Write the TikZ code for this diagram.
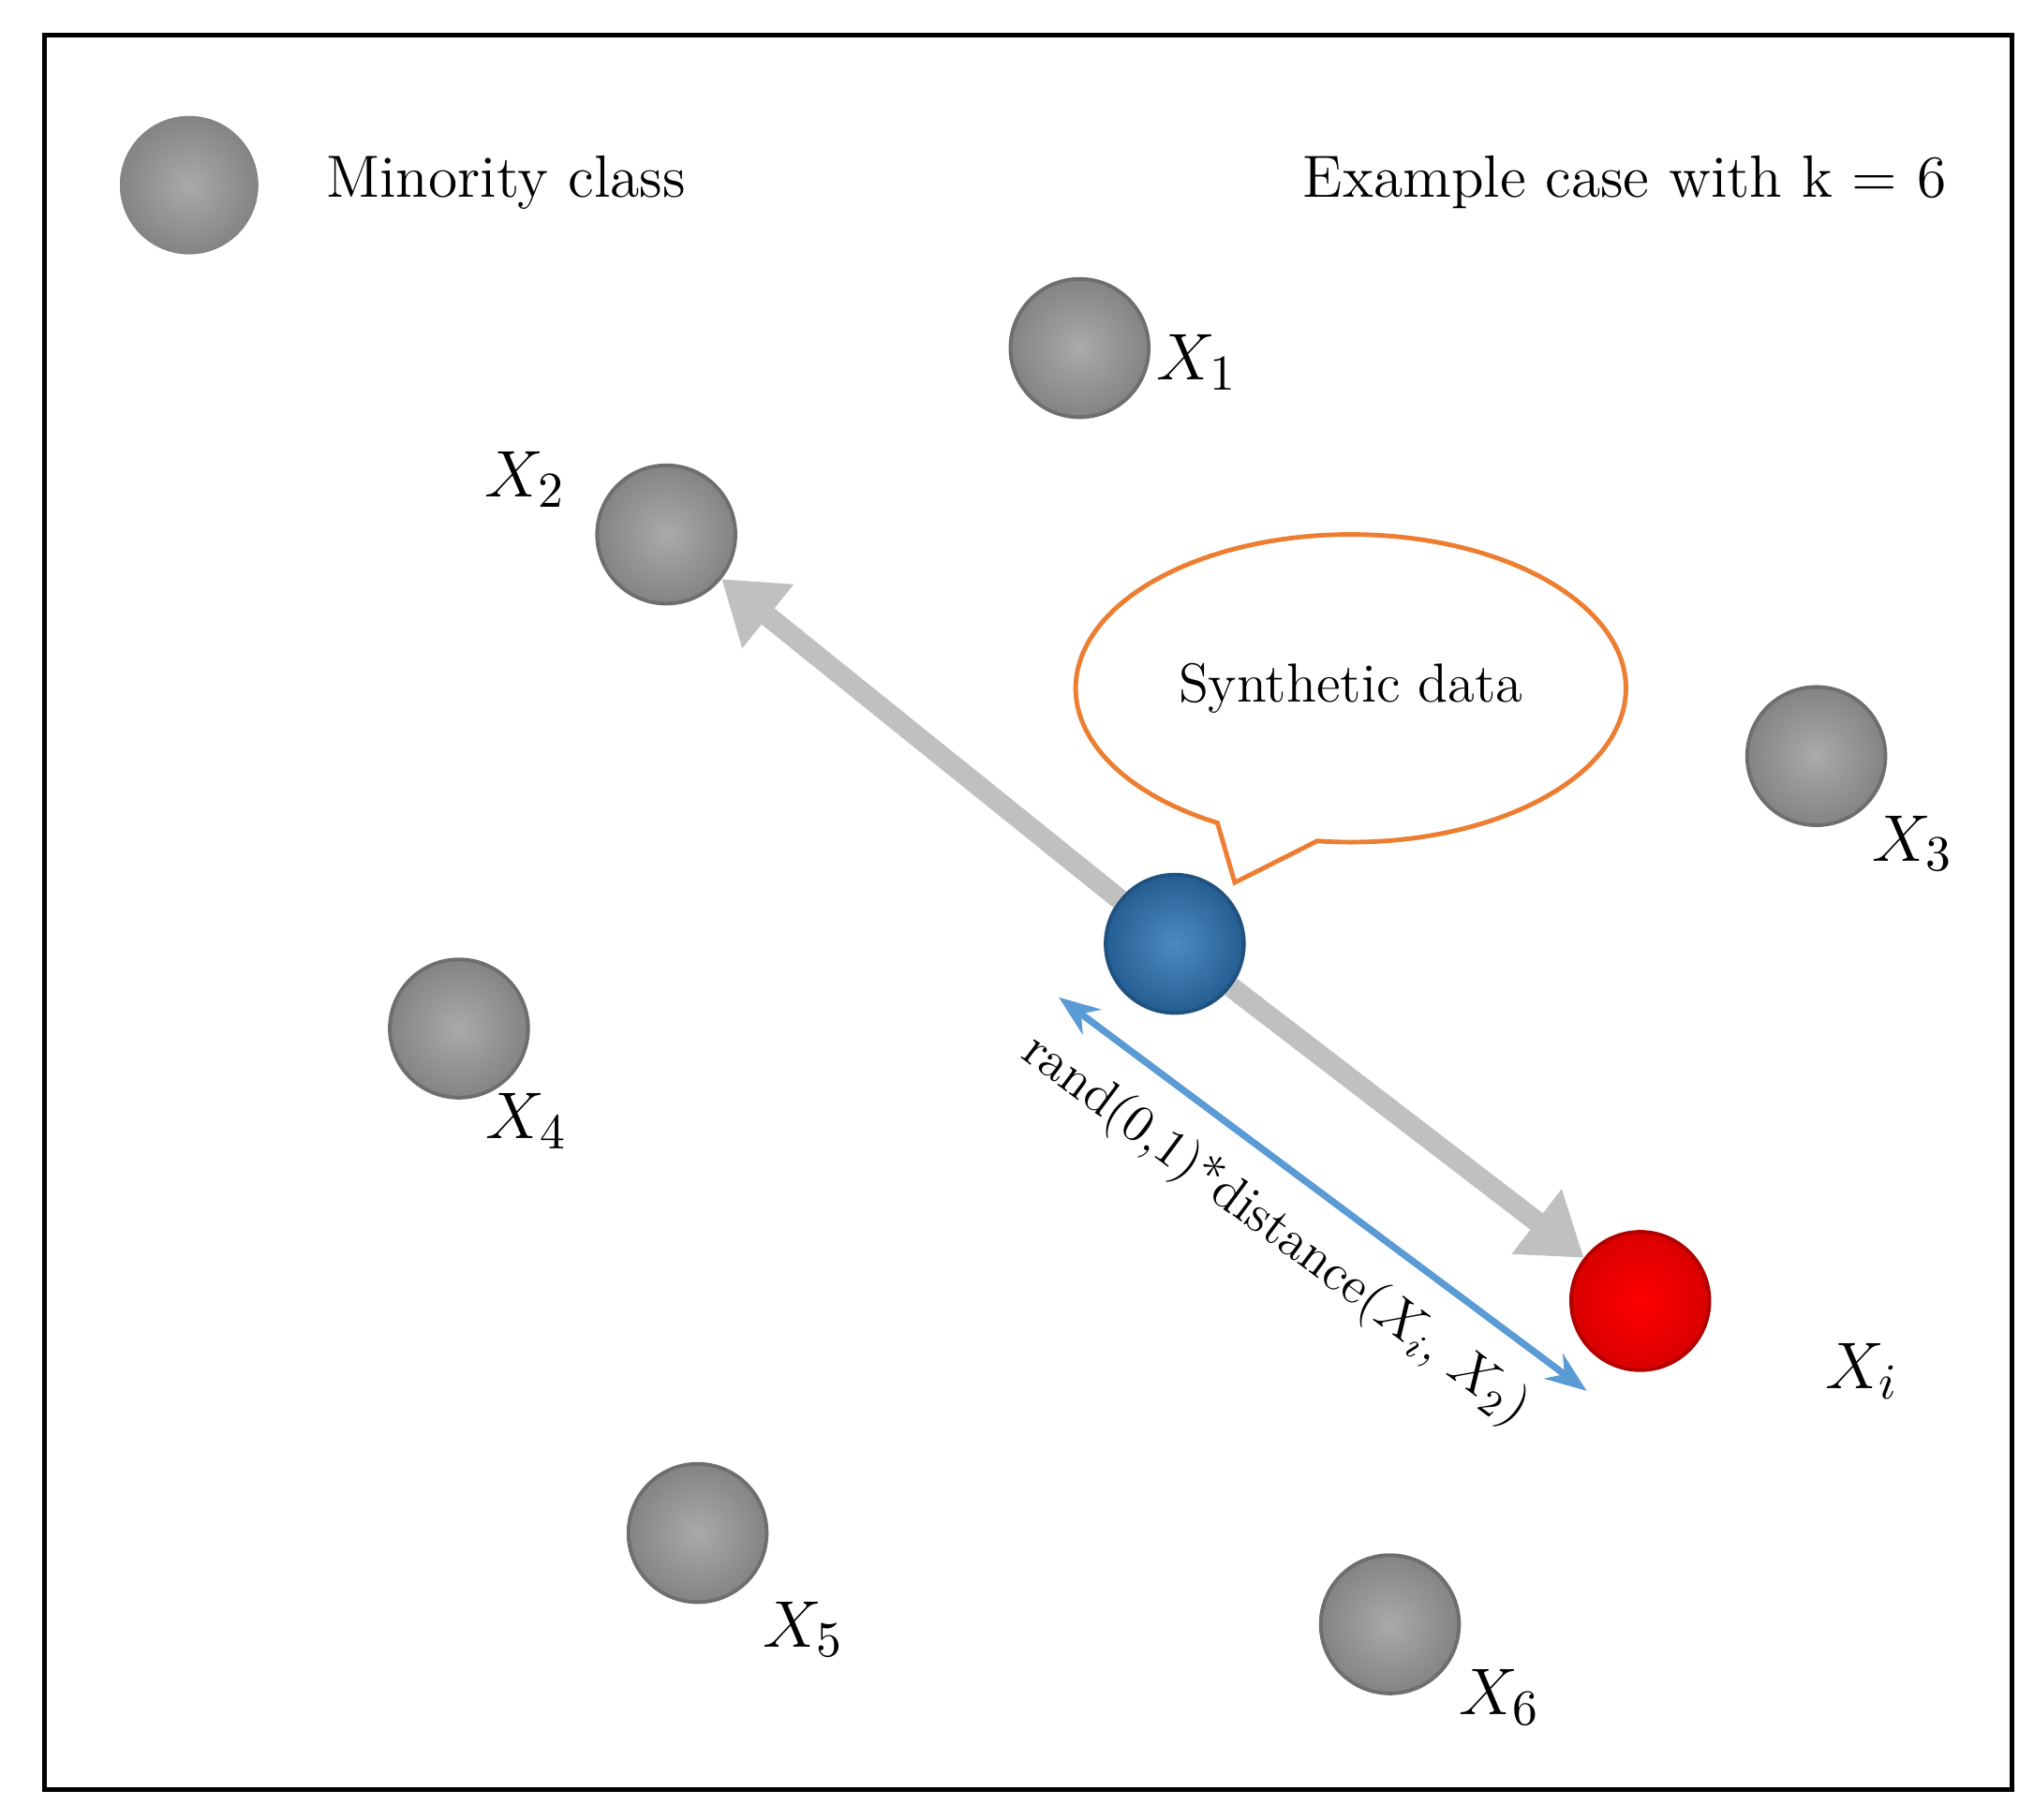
\documentclass[tikz,border=0pt]{standalone}
\usetikzlibrary{arrows.meta,shapes.geometric}
\definecolor{ballgray}{RGB}{155,155,155}
\definecolor{balledge}{RGB}{110,110,110}
\definecolor{synblue}{RGB}{46,117,182}
\definecolor{arrgray}{RGB}{192,192,192}
\definecolor{linkblue}{RGB}{91,155,213}
\definecolor{callout}{RGB}{237,125,49}
\begin{document}
\begin{tikzpicture}[x=0.01cm,y=-0.01cm,
  ball/.style={circle,minimum size=1.06cm,inner sep=0pt,draw=balledge,line width=0.8pt,inner color=ballgray!85!white,outer color=ballgray!85!black},
  lbl/.style={font=\fontsize{15}{17}\selectfont},
  txt/.style={font=\fontsize{13}{15}\selectfont},
  garrow/.style={draw=arrgray,line width=4.5pt,-{Triangle[length=13pt,width=17pt]}}]
\useasboundingbox (0,0) rectangle (1560,1396);
\draw[line width=1pt] (34,27) rectangle (1543,1373);
\node[ball,draw=none,fill=ballgray] (leg) at (145,142) {};
\node[txt,anchor=west] (legt) at (238,140) {Minority class};
\node[txt,anchor=east] (ex) at (1505,140) {Example case with k = 6};
\node[ball] (x1) at (828,267) {};
\node[ball] (x2) at (511,410) {};
\node[ball] (x3) at (1393,580) {};
\node[ball] (x4) at (352,789) {};
\node[ball] (x5) at (535,1176) {};
\node[ball] (x6) at (1066,1246) {};
\node[circle,minimum size=1.06cm,inner sep=0pt,draw=synblue!70!black,line width=0.8pt,inner color=synblue!85!white,outer color=synblue!80!black] (s) at (901,724) {};
\node[circle,minimum size=1.06cm,inner sep=0pt,draw=red!70!black,line width=0.8pt,inner color=red,outer color=red!85!black] (xi) at (1258,998) {};
\node[lbl] (l1) at (918,278) {$X_1$};
\node[lbl] (l2) at (403,368) {$X_2$};
\node[lbl] (l3) at (1467,647) {$X_3$};
\node[lbl] (l4) at (404,860) {$X_4$};
\node[lbl] (l5) at (616,1250) {$X_5$};
\node[lbl] (l6) at (1150,1302) {$X_6$};
\node[lbl] (li) at (1428,1052) {$X_i$};
\draw[garrow] (s) -- (x2);
\draw[garrow] (s) -- (xi);
\coordinate (ba) at (812,765);
\coordinate (bb) at (1217,1067);
\draw[linkblue,line width=1.5pt,{Stealth[length=9pt]}-{Stealth[length=9pt]}] (ba) -- (bb);
\node[font=\fontsize{11.5}{13}\selectfont,rotate=-36.7] (rl) at (978,944) {rand(0,1)*distance($X_i$, $X_2$)};
\draw[callout,line width=1pt,fill=white] (1036,528) ++(97:211 and 118) arc[start angle=97,end angle=-241,x radius=211,y radius=118] -- (947,677) -- cycle;
\node[font=\fontsize{12}{14}\selectfont] (syn) at (1036,528) {Synthetic data};
\end{tikzpicture}
\end{document}
